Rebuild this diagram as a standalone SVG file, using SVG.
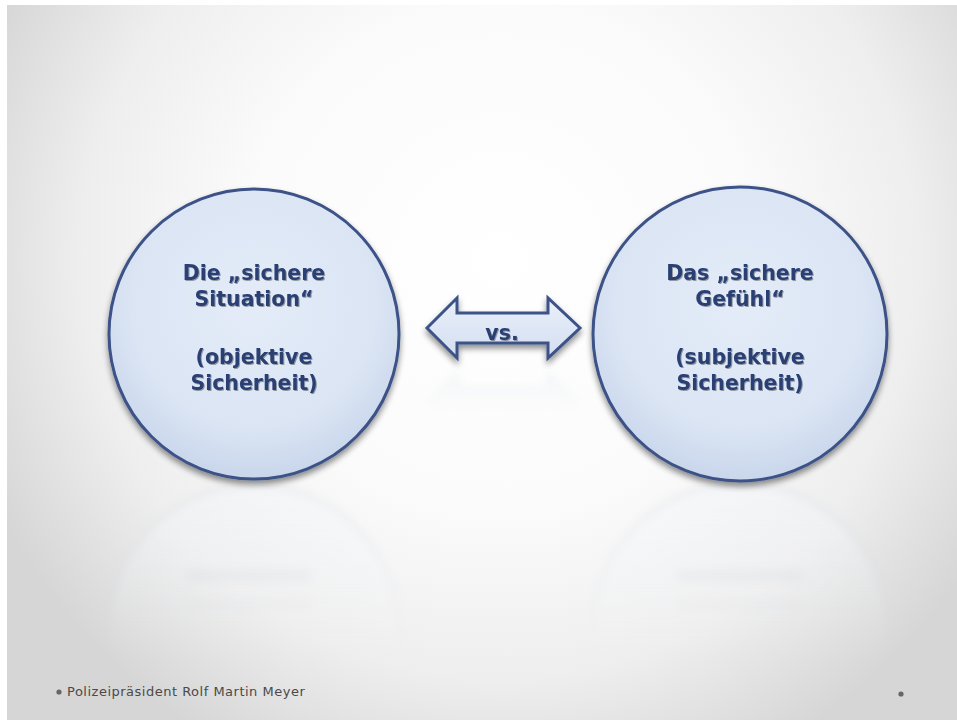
<svg xmlns="http://www.w3.org/2000/svg" width="957" height="720" viewBox="0 0 957 720">
  <defs>
    <radialGradient id="bg" cx="500" cy="260" r="560" gradientUnits="userSpaceOnUse">
      <stop offset="0" stop-color="#ffffff"/>
      <stop offset="0.45" stop-color="#fbfbfb"/>
      <stop offset="0.75" stop-color="#eeeeee"/>
      <stop offset="1" stop-color="#d6d6d6"/>
    </radialGradient>
    <radialGradient id="ball" cx="0.5" cy="0.4" r="0.6">
      <stop offset="0" stop-color="#e4ecf8"/>
      <stop offset="0.7" stop-color="#dbe5f4"/>
      <stop offset="1" stop-color="#c9d6eb"/>
    </radialGradient>
    <linearGradient id="arrowFill" x1="0" y1="0" x2="0" y2="1">
      <stop offset="0" stop-color="#eaf0fa"/>
      <stop offset="1" stop-color="#d3def0"/>
    </linearGradient>
    <filter id="shadow" x="-20%" y="-20%" width="140%" height="150%">
      <feGaussianBlur in="SourceAlpha" stdDeviation="3"/>
      <feOffset dx="0" dy="4" result="b"/>
      <feComponentTransfer><feFuncA type="linear" slope="0.45"/></feComponentTransfer>
      <feMerge><feMergeNode/><feMergeNode in="SourceGraphic"/></feMerge>
    </filter>
    <filter id="txt" x="-10%" y="-10%" width="120%" height="130%">
      <feGaussianBlur in="SourceAlpha" stdDeviation="0.6"/>
      <feOffset dx="1" dy="1"/>
      <feComponentTransfer><feFuncA type="linear" slope="0.35"/></feComponentTransfer>
      <feMerge><feMergeNode/><feMergeNode in="SourceGraphic"/></feMerge>
    </filter>
    <filter id="soft" x="-20%" y="-20%" width="140%" height="140%">
      <feGaussianBlur stdDeviation="4"/>
    </filter>
    <linearGradient id="fade" x1="0" y1="485" x2="0" y2="660" gradientUnits="userSpaceOnUse">
      <stop offset="0" stop-color="#fff" stop-opacity="1"/>
      <stop offset="1" stop-color="#fff" stop-opacity="0"/>
    </linearGradient>
    <mask id="reflMask" maskUnits="userSpaceOnUse" x="0" y="0" width="957" height="720">
      <rect x="0" y="485" width="957" height="200" fill="url(#fade)"/>
    </mask>
    <linearGradient id="fadeArrow" x1="0" y1="368" x2="0" y2="415" gradientUnits="userSpaceOnUse">
      <stop offset="0" stop-color="#fff" stop-opacity="1"/>
      <stop offset="1" stop-color="#fff" stop-opacity="0"/>
    </linearGradient>
    <mask id="arrowMask" maskUnits="userSpaceOnUse" x="0" y="0" width="957" height="720">
      <rect x="400" y="368" width="200" height="60" fill="url(#fadeArrow)"/>
    </mask>
  </defs>
  <style>
    .ball { fill: url(#ball); stroke: #3c5288; stroke-width: 3; }
    .label { font-family: "DejaVu Sans", "Noto Sans", sans-serif; font-weight: bold; font-size: 20.5px; fill: #2b3f72; text-anchor: middle; }
    .foot { font-family: "DejaVu Sans", "Noto Sans", sans-serif; font-size: 13px; letter-spacing: 0.5px; fill: #4a4a4a; }
  </style>

  <!-- slide background -->
  <rect x="0" y="0" width="957" height="720" fill="#ffffff"/>
  <rect x="7" y="5" width="950" height="715" fill="url(#bg)"/>

  <!-- mirrored reflections -->
  <g id="reflections" mask="url(#reflMask)" opacity="0.45">
    <g filter="url(#soft)">
      <circle cx="254" cy="630" r="145" fill="#f4f6fb" stroke="#c9d0de" stroke-width="3"/>
      <circle cx="740" cy="630" r="147" fill="#f4f6fb" stroke="#c9d0de" stroke-width="3"/>
      <rect x="186" y="570" width="125" height="12" fill="#d6dae2"/>
      <rect x="186" y="600" width="125" height="10" fill="#e0e3e9"/>
      <rect x="677" y="570" width="125" height="12" fill="#d6dae2"/>
      <rect x="677" y="600" width="125" height="10" fill="#e0e3e9"/>
    </g>
  </g>
  <g id="arrow-reflection" mask="url(#arrowMask)" opacity="0.35">
    <path d="M427,404 L457,374 L457,389 L548,389 L548,374 L580,404 L548,434 L548,419 L457,419 L457,434 Z" fill="#e4e8ef" stroke="#c6ccd8" stroke-width="2" filter="url(#soft)"/>
  </g>

  <!-- left node -->
  <g id="node-objektiv">
    <circle class="ball" cx="254" cy="334" r="145" filter="url(#shadow)"/>
    <g filter="url(#txt)">
      <text class="label" x="254" y="280">Die „sichere</text>
      <text class="label" x="254" y="306">Situation“</text>
      <text class="label" x="254" y="364">(objektive</text>
      <text class="label" x="254" y="390">Sicherheit)</text>
    </g>
  </g>

  <!-- right node -->
  <g id="node-subjektiv">
    <circle class="ball" cx="740" cy="334" r="147" filter="url(#shadow)"/>
    <g filter="url(#txt)">
      <text class="label" x="740" y="280">Das „sichere</text>
      <text class="label" x="740" y="306">Gefühl“</text>
      <text class="label" x="740" y="364">(subjektive</text>
      <text class="label" x="740" y="390">Sicherheit)</text>
    </g>
  </g>

  <!-- connector -->
  <g id="connectors">
    <path d="M427,328 L457,298 L457,313 L548,313 L548,298 L580,328 L548,358 L548,343 L457,343 L457,358 Z" fill="url(#arrowFill)" stroke="#3c5288" stroke-width="3" stroke-linejoin="miter" filter="url(#shadow)"/>
    <text class="label" x="502" y="340" font-size="16" filter="url(#txt)">vs.</text>
  </g>

  <!-- footer -->
  <g id="footer">
    <circle cx="59" cy="692" r="2.6" fill="#666666"/>
    <text class="foot" x="67" y="696">Polizeipräsident Rolf Martin Meyer</text>
    <circle cx="901" cy="694" r="2.6" fill="#666666"/>
  </g>
</svg>
